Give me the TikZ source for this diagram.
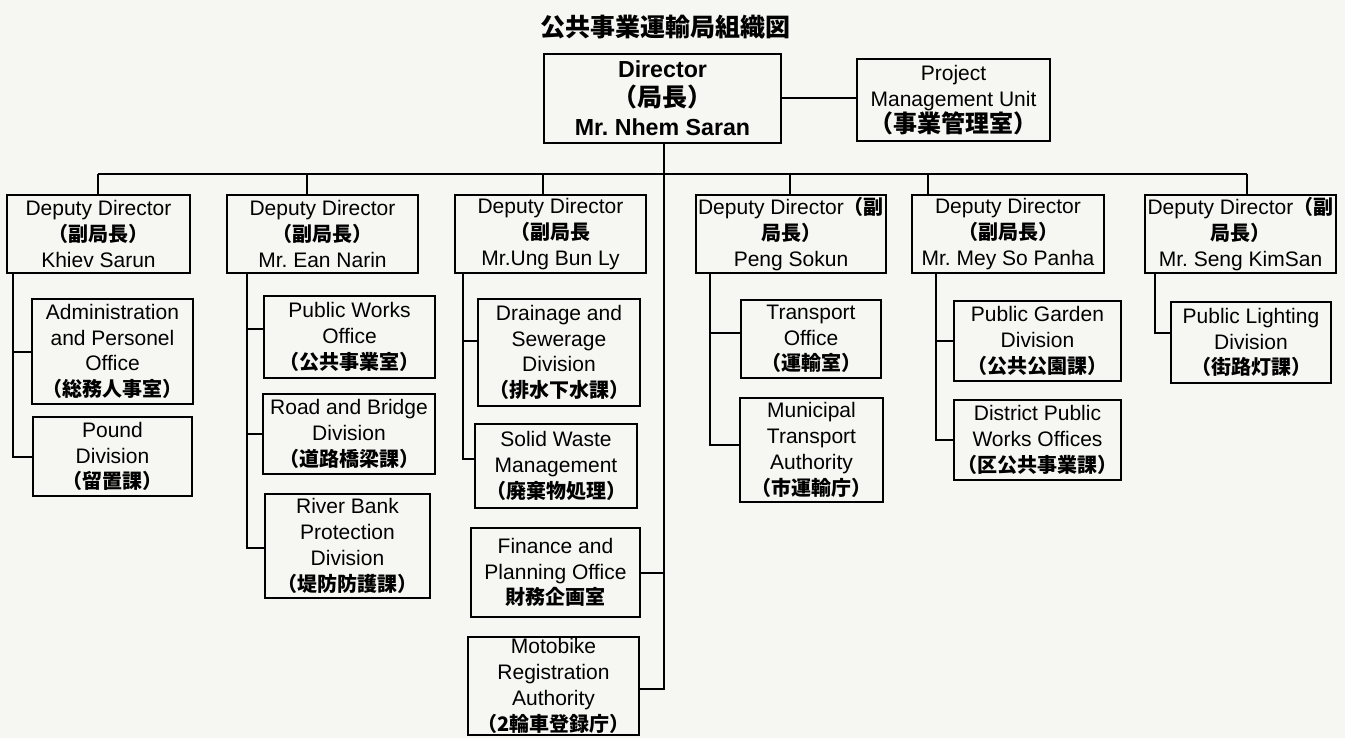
\documentclass[tikz,border=0pt]{standalone}
\usepackage{fontspec}
\setmainfont{Liberation Sans}
\newfontfamily\jp{Noto Sans CJK JP}
\definecolor{bgc}{HTML}{F6F6F2}
\newcommand\J[2][10pt]{{\fontsize{#1}{13pt}\jp\bfseries #2}}
\newcommand\mkbox[7][]{\node[ob,#1,minimum width={(#5-#3)*0.5pt},minimum height={(#6-#4)*0.5pt}] (#2) at ({(#3+#5)/2},{(#4+#6)/2}) {#7};}
\begin{document}
\frenchspacing
\begin{tikzpicture}[x=0.5pt,y=-0.5pt,
  ob/.style={draw=black,line width=1pt,inner sep=0pt,align=center,font=\fontsize{10.5pt}{12.9pt}\selectfont\frenchspacing},
  ln/.style={draw=black,line width=1pt},
  dirfont/.style={font=\bfseries\fontsize{11.6pt}{14.5pt}\selectfont\frenchspacing}]
\fill[bgc] (0,0) rectangle (1345,738);
\useasboundingbox (0,0) rectangle (1345,738);

\node (title) at (665,27) {\J[12.5pt]{公共事業運輸局組織図}};

\mkbox[dirfont]{dir}{544}{54}{781}{143}{Director\\\J[12.5pt]{（局長）}\\Mr. Nhem Saran}
\mkbox{pmu}{857}{59}{1050}{141}{Project\\Management Unit\\\J[12pt]{（事業管理室）}}

\mkbox{d1}{7}{195}{190}{273}{Deputy Director\\\J{（副局長）}\\Khiev Sarun}
\mkbox{d2}{227}{195}{418}{273}{Deputy Director\\\J{（副局長）}\\Mr. Ean Narin}
\mkbox{d3}{455}{195}{646}{273}{Deputy Director\\\J{（副局長}\\Mr.Ung Bun Ly}
\mkbox{d4}{696}{195}{886}{273}{Deputy Director\J{（副}\\\J{局長）}\\Peng Sokun}
\mkbox{d5}{912}{195}{1104}{273}{Deputy Director\\\J{（副局長）}\\Mr. Mey So Panha}
\mkbox{d6}{1145}{195}{1336}{273}{Deputy Director\J{（副}\\\J{局長）}\\Mr. Seng KimSan}

\mkbox{admin}{32}{299}{193}{404}{Administration\\and Personel\\Office\\\J{（総務人事室）}}
\mkbox{pound}{33}{417}{192}{496}{Pound\\Division\\\J{（留置課）}}

\mkbox{pw}{264}{296}{435}{378}{Public Works\\Office\\\J{（公共事業室）}}
\mkbox{rb}{263}{394}{435}{474}{Road and Bridge\\Division\\\J{（道路橋梁課）}}
\mkbox{river}{265}{494}{430}{598}{River Bank\\Protection\\Division\\\J{（堤防防護課）}}

\mkbox{drain}{478}{299}{640}{406}{Drainage and\\Sewerage\\Division\\\J{（排水下水課）}}
\mkbox{solid}{475}{424}{637}{508}{Solid Waste\\Management\\\J{（廃棄物処理）}}
\mkbox{fin}{471}{528}{640}{617}{Finance and\\Planning Office\\\J{財務企画室}}
\mkbox{moto}{468}{637}{639}{735}{Motobike\\Registration\\Authority\\\J{（2輪車登録庁）}}

\mkbox{trans}{741}{300}{881}{378}{Transport\\Office\\\J{（運輸室）}}
\mkbox{muni}{740}{398}{883}{502}{Municipal\\Transport\\Authority\\\J{（市運輸庁）}}

\mkbox{garden}{954}{301}{1121}{381}{Public Garden\\Division\\\J{（公共公園課）}}
\mkbox{dist}{954}{400}{1121}{480}{District Public\\Works Offices\\\J{（区公共事業課）}}

\mkbox{light}{1171}{302}{1331}{383}{Public Lighting\\Division\\\J{（街路灯課）}}

% director connections
\draw[ln] (dir.east) -- (dir.east -| pmu.west);
\coordinate (dv) at ([xshift=0.75pt]dir.south);
\coordinate (mc) at ([yshift=-1.5pt]moto.east);
\draw[ln] (dv) |- (mc);
\draw[ln] (fin.east) -- (fin.east -| dv);

% bus
\coordinate (b1) at (98,174);
\coordinate (b2) at (307,174);
\coordinate (b3) at (543,174);
\coordinate (b4) at (790,174);
\coordinate (b5) at (928,174);
\coordinate (b6) at (1247,174);
\draw[ln] (b1) -- (b6);
\foreach \i in {1,...,6} {\draw[ln] (b\i) -- (b\i |- d\i.north);}

% column spines
\coordinate (s1) at (13,273);
\draw[ln] (s1) |- (pound.west);
\draw[ln] (s1 |- admin.west) -- (admin.west);

\coordinate (s2) at (247,273);
\coordinate (pwc) at ([yshift=4pt]pw.west);
\coordinate (rvc) at ([yshift=-1pt]river.west);
\draw[ln] (s2) |- (rvc);
\draw[ln] (s2 |- pwc) -- (pwc);
\draw[ln] (s2 |- rb.west) -- (rb.west);

\coordinate (s3) at (463,273);
\coordinate (dwc) at ([yshift=5.75pt]drain.west);
\coordinate (swc) at ([yshift=3.5pt]solid.west);
\draw[ln] (s3) |- (swc);
\draw[ln] (s3 |- dwc) -- (dwc);

\coordinate (s4) at (710,273);
\coordinate (tpc) at ([yshift=3pt]trans.west);
\coordinate (mwc) at ([yshift=2.5pt]muni.west);
\draw[ln] (s4) |- (mwc);
\draw[ln] (s4 |- tpc) -- (tpc);

\coordinate (s5) at (936,273);
\draw[ln] (s5) |- (dist.west);
\draw[ln] (s5 |- garden.west) -- (garden.west);

\coordinate (s6) at (1155,273);
\coordinate (lc) at ([yshift=4.75pt]light.west);
\draw[ln] (s6) |- (lc);
\end{tikzpicture}
\end{document}
